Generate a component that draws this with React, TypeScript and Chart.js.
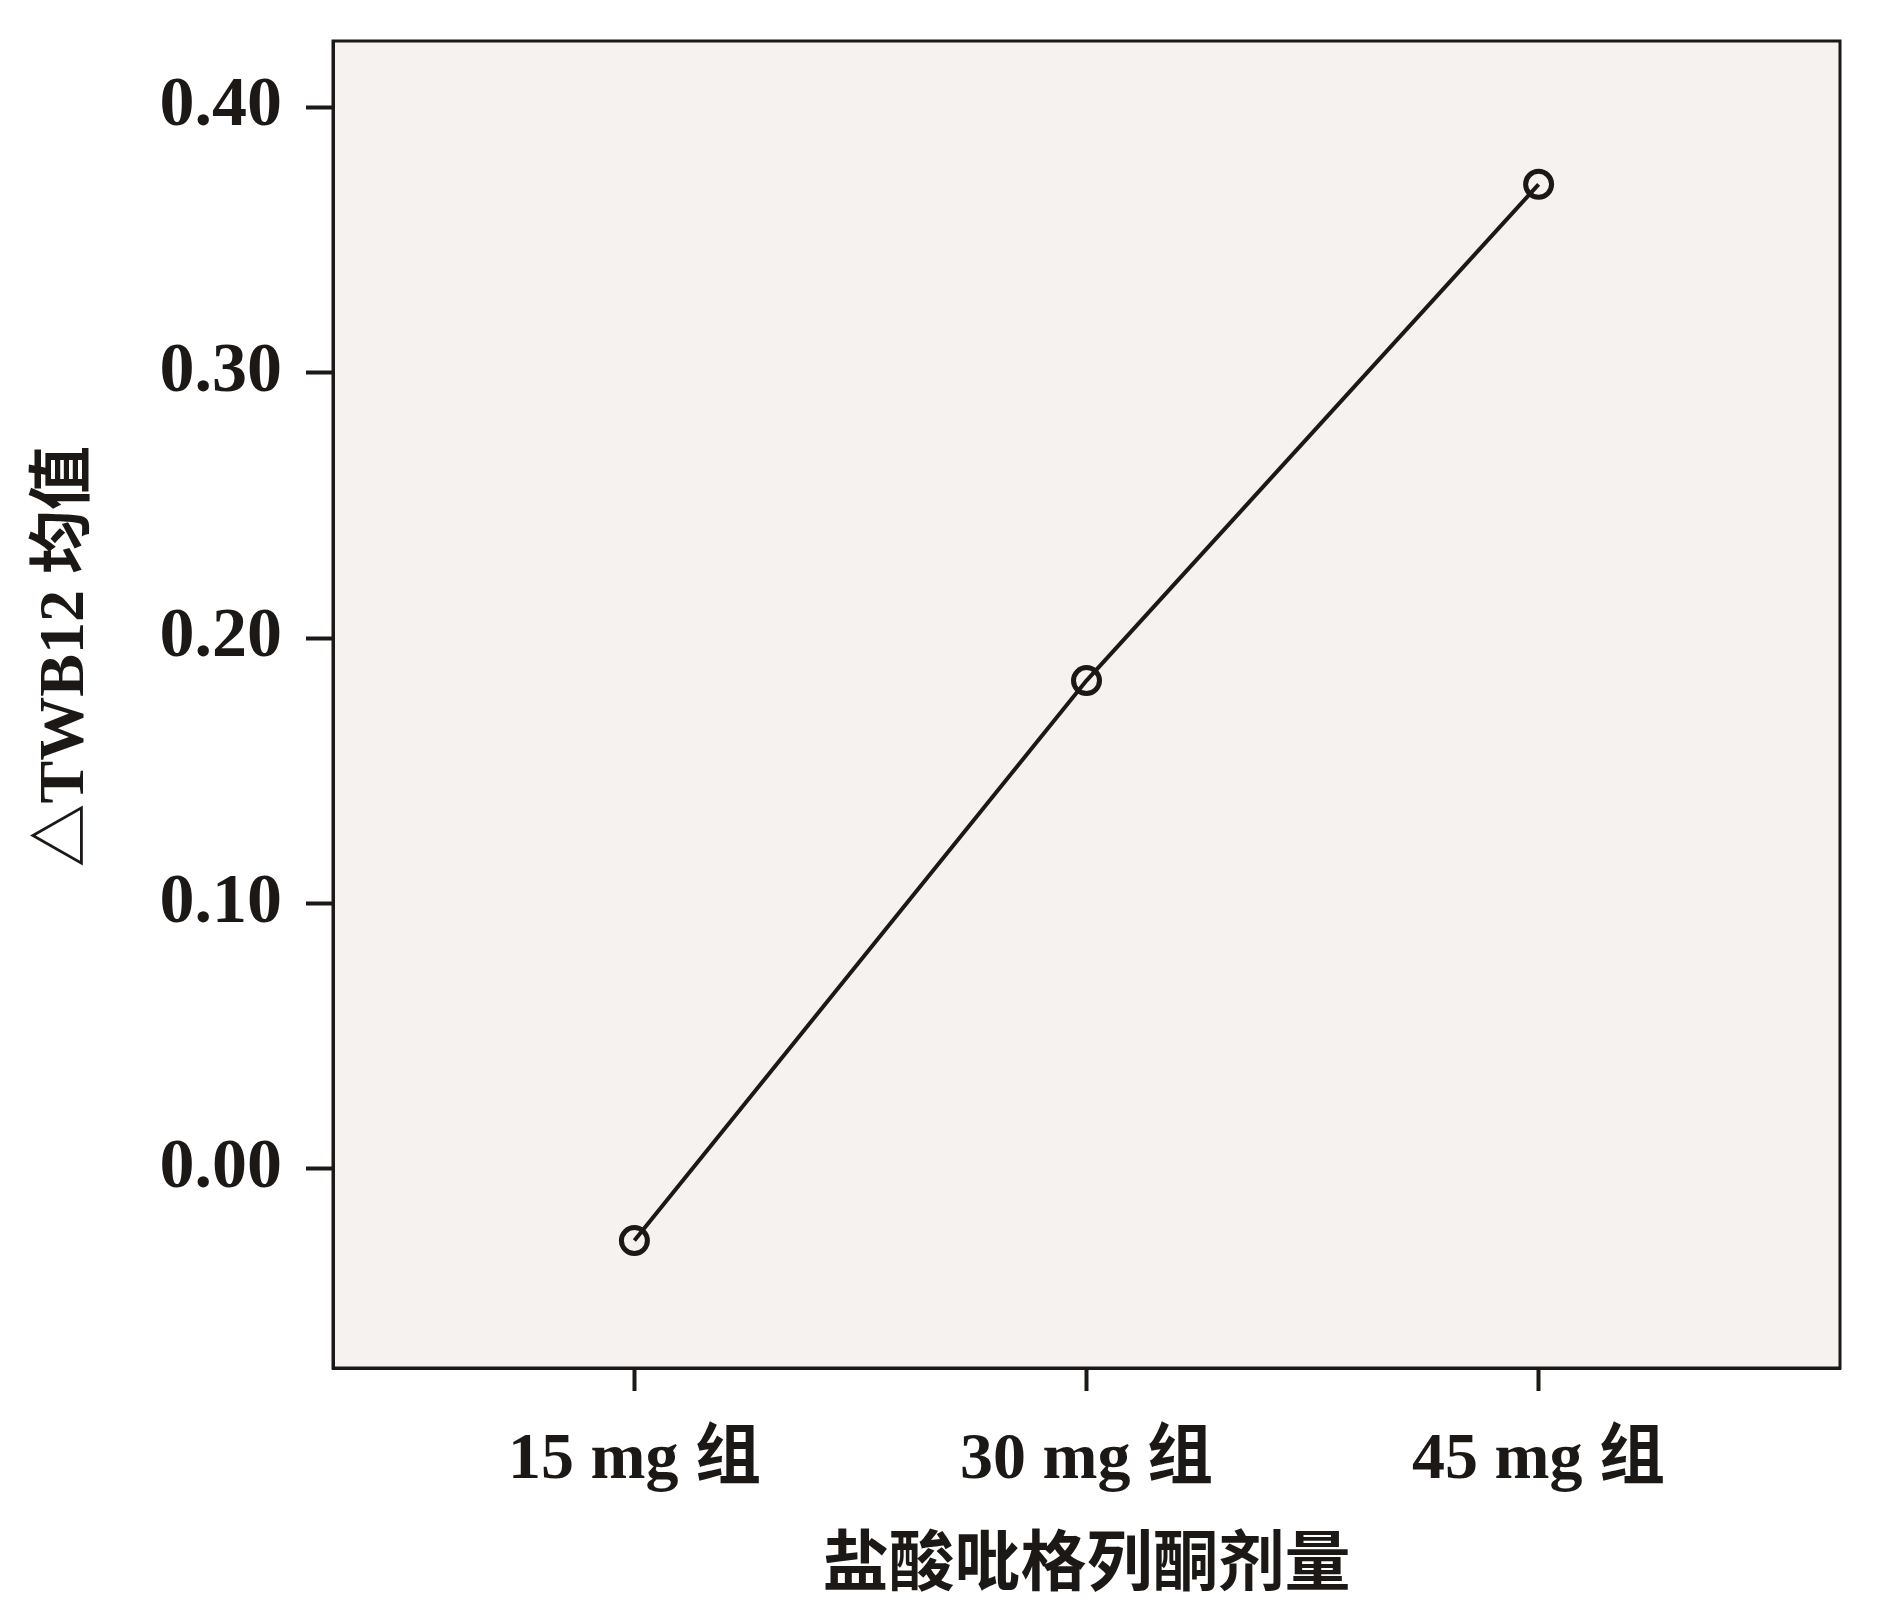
import { useEffect, useRef } from 'react';
import { Chart, registerables } from 'chart.js';

Chart.register(...registerables);

const xLabels = ['15 mg 组', '30 mg 组', '45 mg 组'];
const xPositions = [0, 1, 2];
const meanValues = [-0.027, 0.184, 0.371];
const yTicks = [0, 0.1, 0.2, 0.3, 0.4];
const yAxisTitle = '△TWB12 均值';
const xAxisTitle = '盐酸吡格列酮剂量';

const INK = '#1b1816';
const PLOT_BG = '#f6f2f0';
const FONT = "'Liberation Serif', 'Noto Sans CJK SC', serif";

const framePlugin = {
  id: 'frame',
  beforeDraw(chart: any) {
    const { ctx, chartArea } = chart;
    const { left, top, right, bottom } = chartArea;
    ctx.save();
    ctx.fillStyle = PLOT_BG;
    ctx.fillRect(left, top, right - left, bottom - top);
    ctx.restore();
  },
  afterDraw(chart: any) {
    const { ctx, chartArea } = chart;
    const { left, top, right, bottom } = chartArea;
    ctx.save();
    ctx.strokeStyle = INK;
    ctx.lineWidth = 3;
    ctx.strokeRect(left, top, right - left, bottom - top);
    // y axis title
    ctx.translate(66, top + (bottom - top) * 0.464);
    ctx.rotate(-Math.PI / 2);
    ctx.fillStyle = INK;
    ctx.font = `bold 64px ${FONT}`;
    ctx.textAlign = 'center';
    ctx.textBaseline = 'middle';
    ctx.fillText(yAxisTitle, 0, 0);
    ctx.restore();
  },
};

export default function App() {
  const ref = useRef<HTMLCanvasElement>(null);
  useEffect(() => {
    document.body.style.margin = '0';
    const canvas = ref.current!;
    const chart = new Chart(canvas, {
      type: 'line',
      data: {
        datasets: [
          {
            data: xPositions.map((x, i) => ({ x, y: meanValues[i] })),
            borderColor: INK,
            borderWidth: 4,
            pointRadius: 13,
            pointBorderWidth: 5,
            pointBorderColor: INK,
            pointBackgroundColor: 'rgba(0,0,0,0)',
            tension: 0,
            fill: false,
          },
        ],
      },
      options: {
        animation: false,
        responsive: false,
        devicePixelRatio: 1,
        layout: { padding: { top: 41, right: 41, left: 0, bottom: 0 } },
        plugins: { legend: { display: false }, tooltip: { enabled: false } },
        scales: {
          x: {
            type: 'linear',
            min: -2 / 3,
            max: 8 / 3,
            afterBuildTicks: (s: any) => {
              s.ticks = xPositions.map((v) => ({ value: v }));
            },
            afterFit: (s: any) => {
              s.height = 255;
              s.paddingLeft = 0;
              s.paddingRight = 0;
            },
            ticks: {
              autoSkip: false,
              maxRotation: 0,
              padding: 30,
              color: INK,
              font: { family: FONT, size: 66, weight: 'bold' },
              callback: (v: any) => xLabels[Math.round(Number(v))] ?? '',
            },
            grid: { drawOnChartArea: false, tickLength: 23, tickWidth: 4, color: INK },
            border: { display: true, width: 3, color: INK },
            title: {
              display: true,
              text: xAxisTitle,
              color: INK,
              font: { family: FONT, size: 66, weight: 'bold' },
              padding: { top: 10, bottom: 15 },
            },
          },
          y: {
            type: 'linear',
            min: -0.075,
            max: 0.425,
            afterBuildTicks: (s: any) => {
              s.ticks = yTicks.map((v) => ({ value: v }));
            },
            afterFit: (s: any) => {
              s.width = 333;
              s.paddingTop = 0;
              s.paddingBottom = 0;
            },
            ticks: {
              padding: 24,
              color: INK,
              font: { family: FONT, size: 70, weight: 'bold' },
              callback: (v: any) => Number(v).toFixed(2),
            },
            grid: { drawOnChartArea: false, tickLength: 27, tickWidth: 4, color: INK },
            border: { display: true, width: 3, color: INK },
          },
        },
      },
      plugins: [framePlugin],
    });
    return () => chart.destroy();
  }, []);
  return (
    <div style={{ width: 1881, height: 1623 }}>
      <canvas ref={ref} width={1881} height={1623} style={{ display: 'block' }} />
    </div>
  );
}
